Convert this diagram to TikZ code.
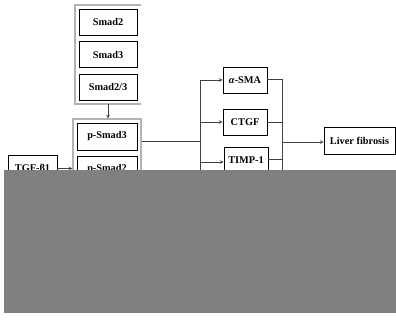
\documentclass[tikz,border=0pt]{standalone}
\usepackage{fontspec}
\setmainfont{Liberation Serif}
\usetikzlibrary{fit}
\begin{document}
\begin{tikzpicture}[x=1pt, y=-1pt, >=stealth,
    box/.style={draw, line width=0.9pt, inner sep=0pt, minimum height=26pt,
                font=\fontsize{10.3}{12}\selectfont\bfseries},
    group/.style={draw=gray!60, line width=1.4pt, inner sep=3.5pt},
    link/.style={draw=black!75, line width=0.6pt}]

    \useasboundingbox (0,0) rectangle (396,324);

    % Smad-Kaesten oben
    \node[box, minimum width=58pt] (smadA) at (108,22) {Smad2};
    \node[box, minimum width=58pt] (smadB) at (108,54.5) {Smad3};
    \node[box, minimum width=58pt] (smadC) at (108,87) {Smad2/3};
    \node[inner sep=3.5pt, fit=(smadA)(smadC)] (grpTop) {};
    \draw[group] (grpTop.north east) -- (grpTop.north west)
                 -- (grpTop.south west) -- (grpTop.south east);

    % phosphorylierte Smads
    \node[box, minimum width=60pt, minimum height=27pt] (pSmadA) at (107,136.5) {p-Smad3};
    \node[box, minimum width=60pt, minimum height=27pt] (pSmadB) at (107,169.5) {p-Smad2};
    \node[group, fit=(pSmadA)(pSmadB)] (grpLow) {};

    \node[box, minimum width=49pt, minimum height=27pt] (tgf) at (32.5,168.5) {TGF-β1};

    % Zielgene und Fibrose
    \node[box, minimum width=44pt] (asma) at (245,80) {\textit{α}-SMA};
    \node[box, minimum width=44pt] (ctgf) at (245,122) {CTGF};
    \node[box, minimum width=44pt] (timp) at (246,160) {TIMP-1};
    \node[box, minimum width=71pt, minimum height=27pt] (liver) at (359.5,140.5) {Liver fibrosis};

    \coordinate (splitTop) at (200,80);
    \coordinate (splitMid) at (200,141);
    \coordinate (splitBot) at (200,176);
    \coordinate (joinTop) at (282,79);
    \coordinate (joinMid) at (282,142);
    \coordinate (joinBot) at (282,176);

    % Verbindungen
    \draw[link, ->] (grpTop.south) -- (grpTop.south |- grpLow.north);
    \draw[link, ->] (tgf.east) -- (tgf.east -| grpLow.west);
    \draw[link] (grpLow.east |- splitMid) -- (splitMid);
    \draw[link] (splitTop) -- (splitBot);
    \draw[link, ->] (splitTop) -- (asma.west);
    \draw[link, ->] (splitTop |- ctgf.west) -- (ctgf.west);
    \draw[link, ->] (200,162) -- (timp.west |- 0,162);

    \draw[link] (asma.east |- joinTop) -- (joinTop);
    \draw[link] (ctgf.east) -- (joinTop |- ctgf.east);
    \draw[link] (timp.east |- 0,159) -- (282,159);
    \draw[link] (joinTop) -- (joinBot);
    \draw[link, ->] (joinMid) -- (liver.west |- joinMid);

    % graue Abdeckung
    \fill[gray] (4,170) rectangle (396,313);

\end{tikzpicture}
\end{document}
